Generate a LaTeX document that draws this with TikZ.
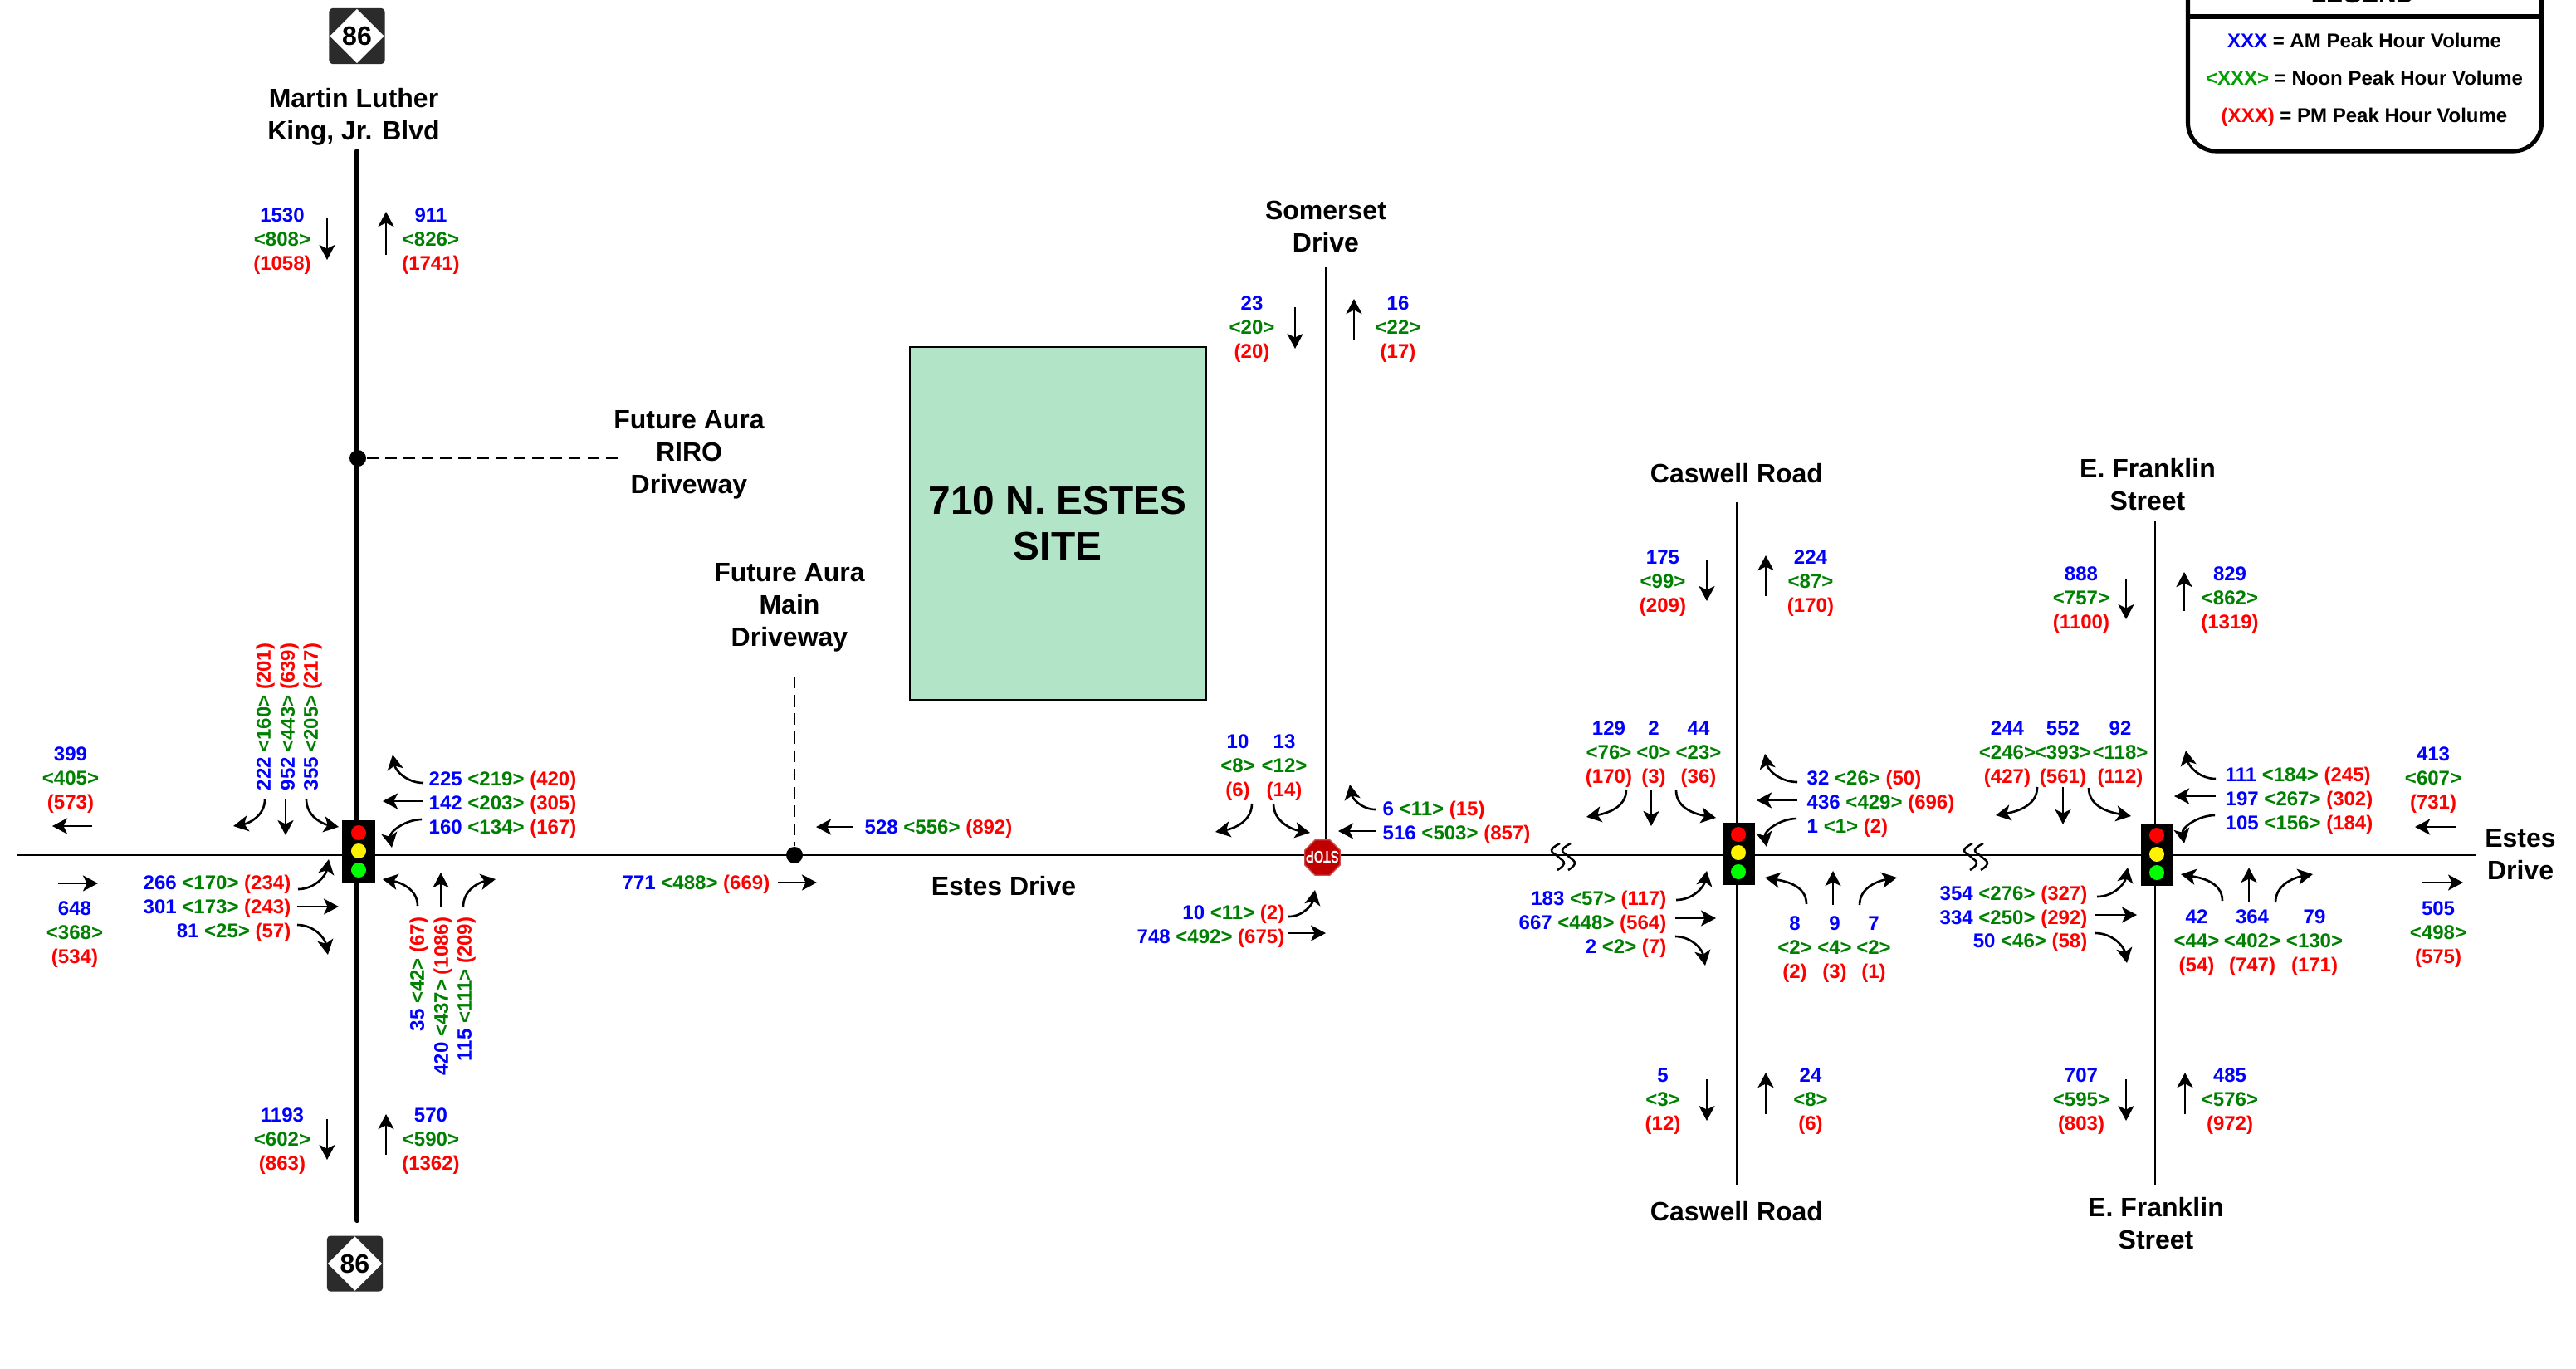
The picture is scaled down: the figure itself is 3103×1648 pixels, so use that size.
\documentclass[tikz,border=0pt]{standalone}
\usepackage{fontspec}
\setmainfont{Liberation Sans}
\usetikzlibrary{arrows.meta,shapes.geometric}

\definecolor{amblue}{HTML}{0000FF}
\definecolor{noongreen}{HTML}{008000}
\definecolor{legendgreen}{HTML}{00A000}
\definecolor{pmred}{HTML}{FF0000}
\definecolor{sitegreen}{HTML}{B2E5C7}
\definecolor{stopred}{HTML}{C00000}
\definecolor{shieldgray}{HTML}{2B2B2B}

\newcommand{\volstack}[5]{\node[volstyle,yshift=-.29cm] (#1) at (#2)
  {\textcolor{amblue}{#3}\\\textcolor{noongreen}{<#4>}\\\textcolor{pmred}{(#5)}};}
\newcommand{\volrow}[6]{\node[volstyle,#2] (#1) at (#3)
  {\textcolor{amblue}{#4} \textcolor{noongreen}{<#5>} \textcolor{pmred}{(#6)}};}
\newcommand{\volarrow}[4]{\coordinate (#1s) at (#2); \coordinate (#1e) at (#3);
  \draw[flow] (#1s) to[#4] (#1e);}

\begin{document}
\begin{tikzpicture}[
  x=.01cm,y=.01cm,
  flow/.style={-{Stealth[length=.18cm,width=.19cm,inset=.045cm]},line width=.75pt},
  volstyle/.style={font=\fontsize{6.83}{8.25}\selectfont\bfseries,align=center,inner sep=0pt,
              text height=.175cm,text depth=0pt},
  street/.style={font=\fontsize{9.1}{11.1}\selectfont\bfseries,align=center,inner sep=0pt,
              text height=.23cm,text depth=0pt},
  legendtext/.style={font=\fontsize{6.83}{8.25}\selectfont\bfseries,inner sep=0pt,
              text height=.175cm,text depth=0pt},
  road/.style={draw,line width=.75pt},
  majorroad/.style={draw,line width=1.75pt,line cap=round},
  access/.style={draw,line width=.6pt,dash pattern=on 4pt off 2.3pt},
  signalbox/.style={fill=black,inner sep=0pt,minimum width=.39cm,minimum height=.75cm},
  lamp/.style={circle,inner sep=0pt,minimum size=.18cm},
  dot/.style={circle,fill=black,inner sep=0pt,minimum size=.2cm},
  shieldbox/.style={fill=shieldgray,rounded corners=.04cm,inner sep=0pt,minimum size=.67cm},
  shieldsign/.style={diamond,fill=white,inner sep=0pt,minimum width=.66cm,minimum height=.66cm,
              font=\fontsize{9.1}{11}\selectfont\bfseries},
  squiggle/.pic={\draw[line width=.7pt] plot[smooth,tension=.8] coordinates
              {(2,16) (-8,8) (0,0) (7,-8) (-1,-16)};}
]
  \path[use as bounding box,clip] (0,0) rectangle (3103,-1648);

  % roads
  \coordinate (estesw) at (21,-1030);
  \coordinate (estese) at (2982,-1030);
  \coordinate (mlkn) at (430,-182);
  \coordinate (mlks) at (430,-1470);
  \coordinate (somersetn) at (1597,-322);
  \coordinate (somersets) at (1597,-1030);
  \coordinate (caswelln) at (2092,-605);
  \coordinate (caswells) at (2092,-1427);
  \coordinate (franklinn) at (2596,-627);
  \coordinate (franklins) at (2596,-1427);
  \draw[road] (estesw) -- (estese);
  \draw[majorroad] (mlkn) -- (mlks);
  \draw[road] (somersetn) -- (somersets);
  \draw[road] (caswelln) -- (caswells);
  \draw[road] (franklinn) -- (franklins);
  \pic at (1877,-1032) {squiggle};
  \pic at (1890,-1032) {squiggle};
  \pic at (2374,-1032) {squiggle};
  \pic at (2387,-1032) {squiggle};

  % driveways
  \node[dot] (rirodot) at (431,-552) {};
  \coordinate (riroend) at (744,-552);
  \draw[access] (rirodot) -- (riroend);
  \node[dot] (maindot) at (957,-1030) {};
  \coordinate (mainend) at (957,-815);
  \draw[access] (mainend) -- (maindot);

  % site
  \node[draw,line width=.6pt,fill=sitegreen,minimum width=3.57cm,minimum height=4.25cm,inner sep=0pt]
    (site) at (1274.5,-630.5) {};
  \node[font=\fontsize{13.6}{15.6}\selectfont\bfseries,align=center,inner sep=0pt,
    text height=.34cm,text depth=0pt] (sitename) at (1274,-657) {710 N. ESTES\\SITE};

  % route shields
  \node[shieldbox] (shieldnbox) at (430,-43.5) {};
  \node[shieldsign] (shieldn) at (430,-43.5) {86};
  \node[shieldbox] (shieldsbox) at (427.5,-1522) {};
  \node[shieldsign] (shields) at (427.5,-1522) {86};

  % street names
  \node[street] (mlkname) at (426,-157) {Martin Luther\\King, Jr. Blvd};
  \node[street] (somersetname) at (1597,-292) {Somerset\\Drive};
  \node[street] (rironame) at (830,-583) {Future Aura\\RIRO\\Driveway};
  \node[street] (mainname) at (951,-767) {Future Aura\\Main\\Driveway};
  \node[street] (estesname) at (1209,-1067) {Estes Drive};
  \node[street] (esteseast) at (3036,-1048) {Estes\\Drive};
  \node[street] (caswellnname) at (2092,-570) {Caswell Road};
  \node[street] (caswellsname) at (2092,-1459) {Caswell Road};
  \node[street] (franklinnname) at (2587,-603) {E. Franklin\\Street};
  \node[street] (franklinsname) at (2597,-1493) {E. Franklin\\Street};

  % signals
  \node[signalbox] (sigmlk) at (432,-1026) {};
  \node[lamp,fill=red] (sigmlkr) at (432,-1003) {};
  \node[lamp,fill=yellow] (sigmlky) at (432,-1025) {};
  \node[lamp,fill=green] (sigmlkg) at (432,-1048) {};
  \node[signalbox] (sigcaswell) at (2094,-1028.5) {};
  \node[lamp,fill=red] (sigcaswellr) at (2094,-1005) {};
  \node[lamp,fill=yellow] (sigcaswelly) at (2094,-1027) {};
  \node[lamp,fill=green] (sigcaswellg) at (2094,-1050) {};
  \node[signalbox] (sigfranklin) at (2598,-1029.5) {};
  \node[lamp,fill=red] (sigfranklinr) at (2598,-1006) {};
  \node[lamp,fill=yellow] (sigfranklinr2) at (2598,-1029) {};
  \node[lamp,fill=green] (sigfrankling) at (2598,-1051) {};

  % stop sign
  \node[regular polygon,regular polygon sides=8,fill=stopred,draw=stopred!70!white,inner sep=0pt,
    minimum size=.46cm] (stopsign) at (1593,-1033) {};
  \node[rotate=180,xscale=.72,text=white,inner sep=0pt,font=\fontsize{5.8}{6}\selectfont\bfseries]
    (stoptext) at (1593,-1033) {STOP};

  % link volumes
  \volstack{mlknsb}{340,-288}{1530}{808}{1058}
  \volarrow{amlknsb}{394,-263}{394,-313}{}
  \volstack{mlknnb}{519,-288}{911}{826}{1741}
  \volarrow{amlknnb}{465,-307}{465,-255}{}
  \volstack{mlkssb}{340,-1372}{1193}{602}{863}
  \volarrow{amlkssb}{394,-1348}{394,-1397}{}
  \volstack{mlksnb}{519,-1372}{570}{590}{1362}
  \volarrow{amlksnb}{465,-1391}{465,-1342}{}
  \volstack{somsb}{1508,-394}{23}{20}{20}
  \volarrow{asomsb}{1560,-370}{1560,-420}{}
  \volstack{somnb}{1684,-394}{16}{22}{17}
  \volarrow{asomnb}{1631,-410}{1631,-360}{}
  \volstack{casnsb}{2003,-700}{175}{99}{209}
  \volarrow{acasnsb}{2056,-675}{2056,-724}{}
  \volstack{casnnb}{2181,-700}{224}{87}{170}
  \volarrow{acasnnb}{2127,-718}{2127,-669}{}
  \volstack{cassb}{2003,-1324}{5}{3}{12}
  \volarrow{acassb}{2056,-1300}{2056,-1350}{}
  \volstack{casnb}{2181,-1324}{24}{8}{6}
  \volarrow{acasnb}{2127,-1342}{2127,-1292}{}
  \volstack{frannsb}{2507,-720}{888}{757}{1100}
  \volarrow{afrannsb}{2561,-697}{2561,-746}{}
  \volstack{frannnb}{2686,-720}{829}{862}{1319}
  \volarrow{afrannnb}{2631,-736}{2631,-689}{}
  \volstack{franssb}{2507,-1324}{707}{595}{803}
  \volarrow{afranssb}{2561,-1300}{2561,-1350}{}
  \volstack{fransnb}{2686,-1324}{485}{576}{972}
  \volarrow{afransnb}{2632,-1342}{2632,-1292}{}
  \volstack{estwwb}{85,-937}{399}{405}{573}
  \volarrow{aestwwb}{111,-995}{63,-995}{}
  \volstack{estweb}{90,-1123}{648}{368}{534}
  \volarrow{aestweb}{70,-1064}{118,-1064}{}
  \volstack{esteewb}{2931,-937}{413}{607}{731}
  \volarrow{aesteewb}{2958,-996}{2909,-996}{}
  \volstack{esteeeb}{2937,-1123}{505}{498}{575}
  \volarrow{aesteeeb}{2917,-1063}{2967,-1063}{}

  % Martin Luther King intersection
  \volrow{mlksbl}{rotate=90,anchor=west}{317,-953}{222}{160}{201}
  \volrow{mlksbt}{rotate=90,anchor=west}{346,-953}{952}{443}{639}
  \volrow{mlksbr}{rotate=90,anchor=west}{374,-953}{355}{205}{217}
  \volarrow{amlksbl}{319,-963}{281,-995}{out=-90,in=10}
  \volarrow{amlksbt}{344,-963}{344,-1006}{}
  \volarrow{amlksbr}{369,-963}{408,-996}{out=-90,in=170}
  \volrow{mlkwbr}{anchor=west}{516,-938}{225}{219}{420}
  \volrow{mlkwbt}{anchor=west}{516,-967}{142}{203}{305}
  \volrow{mlkwbl}{anchor=west}{516,-996}{160}{134}{167}
  \volarrow{amlkwbr}{510,-943}{473,-909}{out=180,in=-80}
  \volarrow{amlkwbt}{510,-965}{461,-965}{}
  \volarrow{amlkwbl}{508,-987}{472,-1021}{out=180,in=100}
  \volrow{mlkebl}{anchor=east}{351,-1063}{266}{170}{234}
  \volrow{mlkebt}{anchor=east}{351,-1092}{301}{173}{243}
  \volrow{mlkebr}{anchor=east}{351,-1121}{81}{25}{57}
  \volarrow{amlkebl}{359,-1071}{396,-1035}{out=0,in=-100}
  \volarrow{amlkebt}{358,-1092}{408,-1092}{}
  \volarrow{amlkebr}{358,-1114}{395,-1150}{out=0,in=100}
  \volrow{mlknbl}{rotate=90,anchor=east}{502,-1104}{35}{42}{67}
  \volrow{mlknbt}{rotate=90,anchor=east}{531,-1104}{420}{437}{1086}
  \volrow{mlknbr}{rotate=90,anchor=east}{559,-1104}{115}{111}{209}
  \volarrow{amlknbl}{503,-1091}{461,-1059}{out=90,in=-10}
  \volarrow{amlknbt}{531,-1092}{531,-1051}{}
  \volarrow{amlknbr}{558,-1092}{597,-1059}{out=90,in=190}

  % main driveway
  \volrow{mainwb}{anchor=west}{1041,-996}{528}{556}{892}
  \volarrow{amainwb}{1028,-996}{983,-996}{}
  \volrow{maineb}{anchor=east}{928,-1063}{771}{488}{669}
  \volarrow{amaineb}{937,-1063}{984,-1063}{}

  % Somerset intersection
  \volstack{stopsbl}{1491,-922}{10}{8}{6}
  \volstack{stopsbr}{1547,-922}{13}{12}{14}
  \volarrow{astopsbl}{1508,-968}{1464,-1002}{out=-90,in=10}
  \volarrow{astopsbr}{1534,-968}{1578,-1003}{out=-90,in=170}
  \volrow{stopwbr}{anchor=west}{1665,-974}{6}{11}{15}
  \volrow{stopwbt}{anchor=west}{1665,-1003}{516}{503}{857}
  \volarrow{astopwbr}{1657,-975}{1626,-945}{out=180,in=-80}
  \volarrow{astopwbt}{1657,-1001}{1612,-1001}{}
  \volrow{stopebl}{anchor=east}{1548,-1099}{10}{11}{2}
  \volrow{stopebt}{anchor=east}{1548,-1128}{748}{492}{675}
  \volarrow{astopebl}{1552,-1104}{1584,-1072}{out=0,in=-100}
  \volarrow{astopebt}{1552,-1124}{1597,-1124}{}

  % Caswell intersection
  \volstack{cassbl}{1938,-906}{129}{76}{170}
  \volstack{cassbt}{1992,-906}{2}{0}{3}
  \volstack{cassbr}{2046,-906}{44}{23}{36}
  \volarrow{acassbl}{1959,-951}{1911,-984}{out=-90,in=10}
  \volarrow{acassbt}{1989,-951}{1989,-995}{}
  \volarrow{acassbr}{2019,-952}{2067,-985}{out=-90,in=170}
  \volrow{caswbr}{anchor=west}{2176,-937}{32}{26}{50}
  \volrow{caswbt}{anchor=west}{2176,-966}{436}{429}{696}
  \volrow{caswbl}{anchor=west}{2176,-995}{1}{1}{2}
  \volarrow{acaswbr}{2165,-942}{2126,-908}{out=180,in=-80}
  \volarrow{acaswbt}{2165,-964}{2116,-964}{}
  \volarrow{acaswbl}{2164,-986}{2128,-1020}{out=180,in=100}
  \volrow{casebl}{anchor=east}{2008,-1082}{183}{57}{117}
  \volrow{casebt}{anchor=east}{2008,-1111}{667}{448}{564}
  \volrow{casebr}{anchor=east}{2008,-1140}{2}{2}{7}
  \volarrow{acasebl}{2019,-1084}{2056,-1049}{out=0,in=-100}
  \volarrow{acasebt}{2018,-1106}{2067,-1106}{}
  \volarrow{acasebr}{2018,-1128}{2054,-1163}{out=0,in=100}
  \volstack{casnbl}{2162,-1141}{8}{2}{2}
  \volstack{casnbt}{2210,-1141}{9}{4}{3}
  \volstack{casnbr}{2257,-1141}{7}{2}{1}
  \volarrow{acasnbl}{2176,-1089}{2126,-1057}{out=90,in=-10}
  \volarrow{acasnbt}{2208,-1090}{2208,-1049}{}
  \volarrow{acasnbr}{2240,-1090}{2285,-1057}{out=90,in=190}

  % Franklin intersection
  \volstack{fransbl}{2418,-906}{244}{246}{427}
  \volstack{fransbt}{2485,-906}{552}{393}{561}
  \volstack{fransbr}{2554,-906}{92}{118}{112}
  \volarrow{afransbl}{2454,-948}{2404,-982}{out=-90,in=10}
  \volarrow{afransbt}{2485,-948}{2485,-993}{}
  \volarrow{afransbr}{2516,-949}{2567,-983}{out=-90,in=170}
  \volrow{franwbr}{anchor=west}{2680,-933}{111}{184}{245}
  \volrow{franwbt}{anchor=west}{2680,-962}{197}{267}{302}
  \volrow{franwbl}{anchor=west}{2680,-991}{105}{156}{184}
  \volarrow{afranwbr}{2669,-938}{2633,-904}{out=180,in=-80}
  \volarrow{afranwbt}{2669,-959}{2619,-959}{}
  \volarrow{afranwbl}{2668,-982}{2631,-1016}{out=180,in=100}
  \volrow{franebl}{anchor=east}{2515,-1076}{354}{276}{327}
  \volrow{franebt}{anchor=east}{2515,-1105}{334}{250}{292}
  \volrow{franebr}{anchor=east}{2515,-1133}{50}{46}{58}
  \volarrow{afranebl}{2526,-1080}{2563,-1045}{out=0,in=-100}
  \volarrow{afranebt}{2524,-1102}{2574,-1102}{}
  \volarrow{afranebr}{2524,-1124}{2562,-1160}{out=0,in=100}
  \volstack{frannbl}{2646,-1133}{42}{44}{54}
  \volstack{frannbt}{2713,-1133}{364}{402}{747}
  \volstack{frannbr}{2788,-1133}{79}{130}{171}
  \volarrow{afrannbl}{2677,-1085}{2627,-1053}{out=90,in=-10}
  \volarrow{afrannbt}{2709,-1087}{2709,-1045}{}
  \volarrow{afrannbr}{2741,-1087}{2786,-1053}{out=90,in=190}

  % legend
  \coordinate (legendnw) at (2635.5,60);
  \coordinate (legendse) at (3061.5,-182);
  \coordinate (legendl) at (2635.5,-20);
  \coordinate (legendr) at (3061.5,-20);
  \draw[line width=1.45pt,rounded corners=.34cm] (legendnw) rectangle (legendse);
  \draw[line width=1.45pt] (legendl) -- (legendr);
  \node[anchor=base,inner sep=0pt,font=\fontsize{8.5}{10}\selectfont\bfseries] (legendtitle)
    at (2846,-3) {LEGEND};
  \node[legendtext] (legendam) at (2848,-49) {\textcolor{amblue}{XXX} = AM Peak Hour Volume};
  \node[legendtext] (legendnoon) at (2848,-94) {\textcolor{legendgreen}{<XXX>} = Noon Peak Hour Volume};
  \node[legendtext] (legendpm) at (2848,-139) {\textcolor{pmred}{(XXX)} = PM Peak Hour Volume};
\end{tikzpicture}
\end{document}
